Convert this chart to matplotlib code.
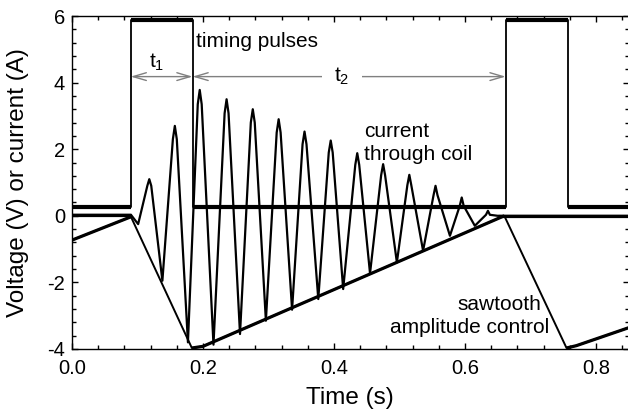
import matplotlib
matplotlib.use("Agg")
import matplotlib.pyplot as plt
from matplotlib.ticker import MultipleLocator, FormatStrFormatter

plt.rcParams['font.family'] = ['Liberation Sans', 'DejaVu Sans']
plt.rcParams['mathtext.fontset'] = 'custom'
plt.rcParams['mathtext.rm'] = 'Liberation Sans'
plt.rcParams['mathtext.it'] = 'Liberation Sans'
plt.rcParams['axes.unicode_minus'] = False

# timing pulses: edge times (s) and the two levels (V)
pulse_edges = [0.0896, 0.184, 0.662, 0.757]
pulse_low = 0.27
pulse_high = 5.87

# sawtooth amplitude control (vertices)
saw_t = [0.0, 0.09, 0.183, 0.2, 0.66, 0.755, 0.77, 0.85]
saw_v = [-0.73, -0.03, -3.97, -3.92, 0.0, -3.97, -3.9, -3.36]

# current through coil, read point by point (trough, shoulder, peak, shoulder, ...)
cur_t = [0.0, 0.09, 0.101,
         0.115, 0.118, 0.121, 0.138,
         0.154, 0.157, 0.160, 0.177,
         0.192, 0.195, 0.198, 0.216,
         0.233, 0.236, 0.239, 0.2565,
         0.273, 0.276, 0.279, 0.296,
         0.3125, 0.3155, 0.3185, 0.336,
         0.352, 0.355, 0.358, 0.376,
         0.392, 0.395, 0.398, 0.414,
         0.4325, 0.4355, 0.4385, 0.455,
         0.472, 0.475, 0.478, 0.496,
         0.512, 0.515, 0.518, 0.536,
         0.552, 0.555, 0.558, 0.577,
         0.592, 0.595, 0.598, 0.615,
         0.632, 0.635, 0.638, 0.65, 0.85]
cur_v = [0.03, 0.03, -0.25,
         0.9, 1.1, 0.9, -1.95,
         2.3, 2.7, 2.3, -3.8,
         3.35, 3.78, 3.35, -3.87,
         3.08, 3.5, 3.08, -3.55,
         2.8, 3.2, 2.8, -3.15,
         2.5, 2.9, 2.5, -2.82,
         2.15, 2.53, 2.15, -2.5,
         1.9, 2.26, 1.9, -2.2,
         1.53, 1.88, 1.53, -1.73,
         1.22, 1.55, 1.22, -1.4,
         0.92, 1.23, 0.92, -1.05,
         0.62, 0.9, 0.62, -0.6,
         0.3, 0.55, 0.3, -0.3,
         0.03, 0.15, 0.03, 0.0, 0.0]

arrow_y = 4.18

fig = plt.figure(figsize=(6.28, 4.15), dpi=100)
ax = fig.add_axes([72/628, 1-349/415, 556.75/628, 333/415])

# pulse train as a step trace
edges = [0.0] + pulse_edges + [0.85]
levels = [pulse_low, pulse_high, pulse_low, pulse_high, pulse_low]
px, py = [], []
for i in range(len(levels)):
    px += [edges[i], edges[i+1]]
    py += [levels[i], levels[i]]
ax.plot(px, py, color='black', lw=1.3)
for i in range(len(levels)):
    ax.plot([edges[i], edges[i+1]], [levels[i], levels[i]], color='black', lw=3,
            solid_capstyle='butt')

# sawtooth: thin falling edges, thicker (noisy) rising ramps
ax.plot(saw_t, saw_v, color='black', lw=1.4)
for a, b in [(0, 2), (2, 5), (5, 8)]:
    ax.plot(saw_t[a:b], saw_v[a:b], color='black', lw=2.3, solid_capstyle='butt')

# coil current
ax.plot(cur_t, cur_v, color='black', lw=1.6, solid_joinstyle='round')
ax.plot(cur_t[:2], cur_v[:2], color='black', lw=2.3, solid_capstyle='butt')
ax.plot(cur_t[-2:], cur_v[-2:], color='black', lw=2.3, solid_capstyle='butt')

# t1 / t2 arrows
aprops = dict(arrowstyle='<->,head_length=0.95,head_width=0.28', mutation_scale=10,
              color='#808080', lw=1, shrinkA=0, shrinkB=0)
ax.annotate('', xy=(pulse_edges[0], arrow_y), xytext=(pulse_edges[1], arrow_y), arrowprops=aprops)
ax.annotate('', xy=(pulse_edges[1], arrow_y), xytext=(pulse_edges[2], arrow_y), arrowprops=aprops)
ax.text(0.129, 4.45, 't$_1$', fontsize=15, ha='center', va='baseline')
ax.text(0.412, 4.03, 't$_2$', fontsize=15, ha='center', va='baseline',
        bbox=dict(facecolor='white', edgecolor='none', pad=9))

ax.text(0.189, 5.24, 'timing pulses', fontsize=15, ha='left', va='center')
ax.text(0.446, 2.53, 'current', fontsize=15, ha='left', va='center')
ax.text(0.446, 1.83, 'through coil', fontsize=15, ha='left', va='center')
ax.text(0.716, -2.65, 'sawtooth', fontsize=15, ha='right', va='center')
ax.text(0.728, -3.35, 'amplitude control', fontsize=15, ha='right', va='center')

ax.set_xlim(0, 0.85)
ax.set_ylim(-4, 6)
ax.xaxis.set_major_locator(MultipleLocator(0.2))
ax.xaxis.set_minor_locator(MultipleLocator(0.04))
ax.xaxis.set_major_formatter(FormatStrFormatter('%.1f'))
ax.yaxis.set_major_locator(MultipleLocator(2))
ax.yaxis.set_minor_locator(MultipleLocator(0.4))
ax.tick_params(which='both', direction='in', top=True, right=True, width=1)
ax.tick_params(which='major', length=4.5, labelsize=14.5)
ax.tick_params(which='minor', length=3)
ax.tick_params(axis='x', pad=7)
ax.tick_params(axis='y', pad=5)
for s in ax.spines.values():
    s.set_linewidth(1)

ax.set_xlabel('Time (s)', fontsize=17.5)
ax.set_ylabel('Voltage (V) or current (A)', fontsize=17.5)
ax.xaxis.set_label_coords(0.5, -0.115)
ax.yaxis.set_label_coords(-0.078, 0.5)

fig.savefig('out.png', dpi=100)
